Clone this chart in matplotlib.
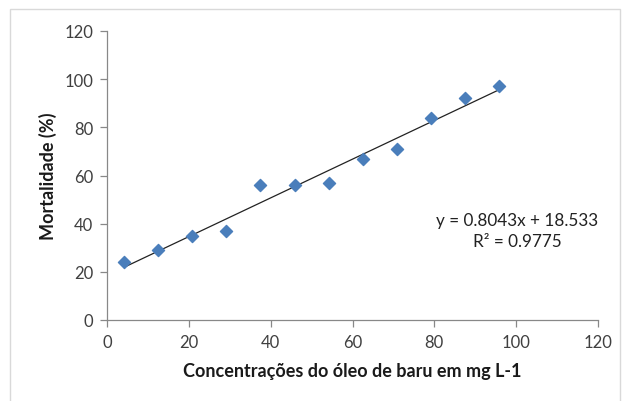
import matplotlib.pyplot as plt
from matplotlib.patches import Rectangle

# Data
conc = [4.17, 12.5, 20.83, 29.17, 37.5, 45.83, 54.17, 62.5, 70.83, 79.17, 87.5, 95.83]
mort = [24, 29, 35, 37, 56, 56, 57, 67, 71, 84, 92, 97]
slope = 0.8043
intercept = 18.533
r2 = 0.9775

x_ticks = [0, 20, 40, 60, 80, 100, 120]
y_ticks = [0, 20, 40, 60, 80, 100, 120]

plt.rcParams['font.family'] = ['Lato', 'DejaVu Sans']

fig = plt.figure(figsize=(6.24, 4.02), dpi=100)
ax = fig.add_axes([107 / 624, 1 - 321 / 402, (598 - 107) / 624, (321 - 32) / 402])

# outer chart border
fig.patches.append(Rectangle((10 / 624, -0.05), 1 - 14 / 624, 1.05 - 10 / 402,
                             transform=fig.transFigure, fill=False,
                             edgecolor='#d9d9d9', linewidth=1))

ax.scatter(conc, mort, marker='D', s=38, color='#4a7ebb', zorder=3)

x_fit = [conc[0], conc[-1]]
y_fit = [slope * v + intercept for v in x_fit]
ax.plot(x_fit, y_fit, color='#222222', linewidth=0.9, zorder=2)

ax.set_xlim(0, 120)
ax.set_ylim(0, 120)
ax.set_xticks(x_ticks)
ax.set_yticks(y_ticks)

for side in ['top', 'right']:
    ax.spines[side].set_visible(False)
for side in ['left', 'bottom']:
    ax.spines[side].set_color('#888888')
    ax.spines[side].set_linewidth(0.9)

ax.tick_params(direction='out', length=5, width=0.9, color='#888888',
               labelsize=12, labelcolor='#404040', pad=5)

ax.set_xlabel('Concentrações do óleo de baru em mg L-1', fontsize=13,
              fontweight='bold', color='#1a1a1a', labelpad=9)
ax.set_ylabel('Mortalidade (%)', fontsize=13, fontweight='bold',
              color='#1a1a1a', labelpad=5)

ax.text(100.3, 37, f'y = {slope}x + {intercept}\nR² = {r2}', ha='center', va='center',
        fontsize=12.3, color='#222222', linespacing=1.4)

fig.savefig('out.png', dpi=100)
